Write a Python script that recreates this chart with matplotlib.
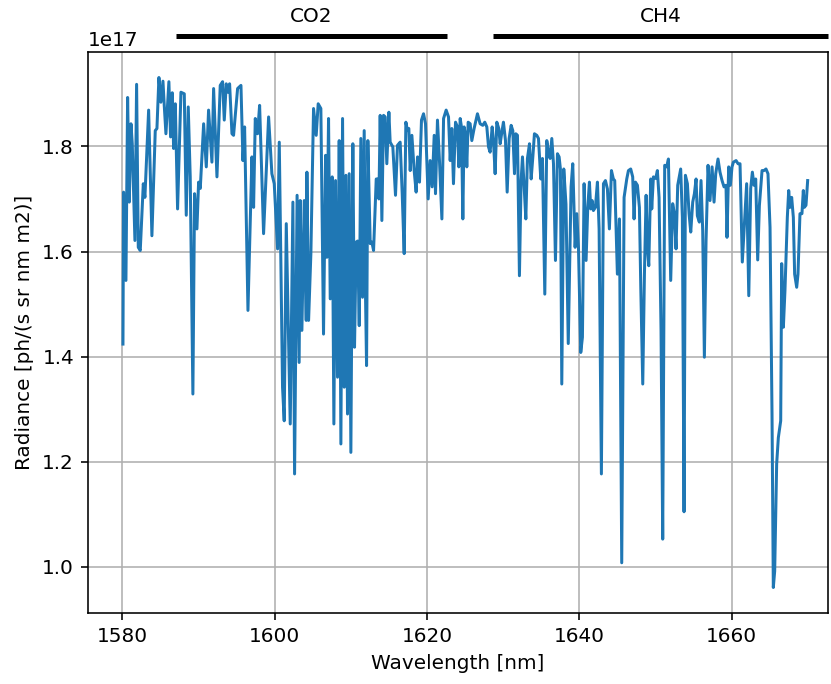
import matplotlib
matplotlib.use("Agg")
import matplotlib.pyplot as plt

# spectrum (radiance in units of 1e17)
wavelength = [
    1580.09, 1580.17, 1580.48, 1580.70, 1580.92, 1581.14, 1581.31, 1581.66, 1581.88, 1582.10,
    1582.36, 1582.76, 1582.97, 1583.46, 1583.89, 1584.33, 1584.55, 1584.81, 1585.07, 1585.34,
    1585.51, 1585.73, 1586.12, 1586.34, 1586.56, 1586.74, 1586.96, 1587.26, 1587.70, 1588.14,
    1588.40, 1588.66, 1588.92, 1589.27, 1589.49, 1589.80, 1590.02, 1590.24, 1590.68, 1591.03,
    1591.33, 1591.77, 1591.99, 1592.43, 1592.86, 1593.17, 1593.39, 1593.65, 1593.87, 1594.09,
    1594.40, 1594.61, 1595.14, 1595.58, 1595.84, 1596.06, 1596.50, 1597.02, 1597.24, 1597.46,
    1597.76, 1598.03, 1598.55, 1599.21, 1599.64, 1599.95, 1600.39, 1600.61, 1601.04, 1601.26,
    1601.53, 1602.05, 1602.40, 1602.62, 1602.95, 1603.22, 1603.36, 1603.58, 1603.89, 1604.15,
    1604.24, 1604.46, 1604.76, 1605.11, 1605.46, 1605.72, 1606.07, 1606.42, 1606.69, 1606.86,
    1607.08, 1607.30, 1607.56, 1607.78, 1608.00, 1608.26, 1608.48, 1608.70, 1608.92, 1609.14,
    1609.36, 1609.57, 1609.79, 1610.01, 1610.27, 1610.49, 1610.71, 1610.90, 1611.11, 1611.32,
    1611.54, 1611.76, 1611.94, 1612.07, 1612.24, 1612.55, 1612.77, 1612.99, 1613.34, 1613.56,
    1613.69, 1613.86, 1614.08, 1614.30, 1614.52, 1614.73, 1615.00, 1615.17, 1615.52, 1615.87,
    1616.13, 1616.48, 1616.75, 1617.01, 1617.23, 1617.45, 1617.62, 1617.80, 1618.02, 1618.32,
    1618.58, 1618.76, 1619.02, 1619.28, 1619.55, 1619.81, 1620.16, 1620.42, 1620.68, 1620.95,
    1621.12, 1621.38, 1621.65, 1621.96, 1622.18, 1622.52, 1622.83, 1623.05, 1623.26, 1623.48,
    1623.75, 1624.01, 1624.18, 1624.36, 1624.53, 1624.71, 1624.88, 1625.10, 1625.23, 1625.41,
    1625.67, 1625.89, 1626.19, 1626.63, 1626.98, 1627.33, 1627.59, 1627.86, 1628.08, 1628.29,
    1628.56, 1628.73, 1628.95, 1629.17, 1629.43, 1629.61, 1629.83, 1630.04, 1630.31, 1630.53,
    1630.79, 1631.05, 1631.27, 1631.49, 1631.66, 1631.88, 1632.14, 1632.36, 1632.54, 1632.76,
    1632.98, 1633.19, 1633.46, 1633.68, 1633.90, 1634.11, 1634.42, 1634.64, 1634.94, 1635.16,
    1635.47, 1635.73, 1635.95, 1636.17, 1636.39, 1636.61, 1636.87, 1637.13, 1637.35, 1637.52,
    1637.70, 1637.96, 1638.25, 1638.55, 1638.92, 1639.14, 1639.45, 1639.67, 1639.89, 1640.19,
    1640.41, 1640.63, 1640.89, 1641.11, 1641.33, 1641.50, 1641.68, 1641.85, 1642.11, 1642.38,
    1642.60, 1642.90, 1643.17, 1643.43, 1643.69, 1643.95, 1644.22, 1644.47, 1644.65, 1645.00,
    1645.27, 1645.57, 1645.88, 1646.23, 1646.45, 1646.75, 1647.01, 1647.19, 1647.37, 1647.63,
    1647.89, 1648.07, 1648.33, 1648.55, 1648.77, 1648.94, 1649.12, 1649.38, 1649.51, 1649.73,
    1650.03, 1650.25, 1650.47, 1650.73, 1650.95, 1651.21, 1651.47, 1651.70, 1652.00, 1652.26,
    1652.48, 1652.70, 1652.92, 1653.31, 1653.53, 1653.75, 1653.93, 1654.19, 1654.41, 1654.63,
    1654.89, 1655.11, 1655.33, 1655.50, 1655.76, 1655.98, 1656.20, 1656.42, 1656.64, 1656.90,
    1657.16, 1657.43, 1657.69, 1657.91, 1658.21, 1658.47, 1658.74, 1659.00, 1659.26, 1659.39,
    1659.61, 1659.83, 1660.05, 1660.23, 1660.58, 1660.84, 1661.10, 1661.40, 1661.70, 1661.97,
    1662.25, 1662.50, 1662.72, 1662.94, 1663.16, 1663.42, 1663.64, 1663.99, 1664.25, 1664.51,
    1664.77, 1665.04, 1665.30, 1665.47, 1665.65, 1665.91, 1666.13, 1666.44, 1666.57, 1666.79,
    1667.00, 1667.31, 1667.49, 1667.66, 1667.88, 1668.10, 1668.27, 1668.54, 1668.71, 1668.97,
    1669.23, 1669.41, 1669.54, 1669.76, 1669.98,
]
radiance = [
    1.424, 1.713, 1.545, 1.893, 1.694, 1.843, 1.805, 1.621, 1.918, 1.608,
    1.602, 1.729, 1.703, 1.869, 1.630, 1.830, 1.834, 1.931, 1.884, 1.924,
    1.878, 1.824, 1.923, 1.818, 1.902, 1.796, 1.881, 1.681, 1.903, 1.900,
    1.669, 1.875, 1.742, 1.329, 1.710, 1.643, 1.732, 1.720, 1.843, 1.761,
    1.869, 1.770, 1.910, 1.742, 1.916, 1.923, 1.850, 1.919, 1.903, 1.919,
    1.824, 1.821, 1.910, 1.916, 1.773, 1.837, 1.488, 1.780, 1.684, 1.853,
    1.824, 1.878, 1.634, 1.856, 1.748, 1.729, 1.605, 1.808, 1.342, 1.278,
    1.653, 1.272, 1.694, 1.177, 1.707, 1.389, 1.697, 1.450, 1.697, 1.469,
    1.751, 1.469, 1.596, 1.872, 1.821, 1.881, 1.872, 1.443, 1.783, 1.589,
    1.853, 1.510, 1.742, 1.272, 1.735, 1.361, 1.811, 1.234, 1.853, 1.342,
    1.745, 1.291, 1.748, 1.218, 1.805, 1.418, 1.618, 1.620, 1.459, 1.815,
    1.513, 1.830, 1.510, 1.383, 1.811, 1.615, 1.618, 1.602, 1.738, 1.738,
    1.700, 1.859, 1.659, 1.859, 1.856, 1.767, 1.865, 1.808, 1.799, 1.707,
    1.802, 1.808, 1.710, 1.596, 1.846, 1.830, 1.834, 1.754, 1.821, 1.754,
    1.713, 1.780, 1.732, 1.850, 1.862, 1.843, 1.700, 1.773, 1.723, 1.821,
    1.710, 1.850, 1.770, 1.662, 1.853, 1.869, 1.856, 1.773, 1.834, 1.729,
    1.846, 1.837, 1.761, 1.853, 1.837, 1.662, 1.837, 1.818, 1.761, 1.846,
    1.843, 1.811, 1.834, 1.862, 1.843, 1.840, 1.846, 1.837, 1.799, 1.789,
    1.837, 1.811, 1.748, 1.846, 1.834, 1.805, 1.827, 1.846, 1.811, 1.713,
    1.815, 1.840, 1.830, 1.748, 1.824, 1.821, 1.554, 1.735, 1.780, 1.723,
    1.662, 1.777, 1.805, 1.738, 1.780, 1.824, 1.821, 1.815, 1.738, 1.777,
    1.519, 1.811, 1.789, 1.777, 1.815, 1.767, 1.583, 1.786, 1.780, 1.757,
    1.348, 1.757, 1.690, 1.425, 1.723, 1.767, 1.608, 1.672, 1.608, 1.408,
    1.437, 1.729, 1.583, 1.684, 1.732, 1.681, 1.697, 1.678, 1.684, 1.732,
    1.643, 1.177, 1.729, 1.735, 1.719, 1.643, 1.754, 1.738, 1.735, 1.557,
    1.662, 1.008, 1.703, 1.738, 1.754, 1.757, 1.742, 1.662, 1.732, 1.726,
    1.684, 1.532, 1.348, 1.557, 1.707, 1.608, 1.573, 1.738, 1.681, 1.742,
    1.739, 1.754, 1.703, 1.450, 1.053, 1.764, 1.761, 1.776, 1.545, 1.691,
    1.672, 1.605, 1.726, 1.757, 1.665, 1.105, 1.745, 1.729, 1.672, 1.637,
    1.694, 1.710, 1.738, 1.668, 1.656, 1.735, 1.640, 1.399, 1.621, 1.764,
    1.697, 1.761, 1.694, 1.748, 1.776, 1.751, 1.735, 1.723, 1.726, 1.627,
    1.761, 1.726, 1.761, 1.770, 1.773, 1.767, 1.767, 1.580, 1.660, 1.729,
    1.516, 1.720, 1.751, 1.726, 1.738, 1.584, 1.687, 1.754, 1.754, 1.757,
    1.748, 1.646, 1.291, 0.961, 0.992, 1.196, 1.246, 1.278, 1.577, 1.456,
    1.526, 1.665, 1.716, 1.684, 1.703, 1.665, 1.557, 1.532, 1.557, 1.672,
    1.672, 1.716, 1.684, 1.688, 1.735,
]

# absorption windows shown above the plot
band_names = ["CO2", "CH4"]
band_start = [1587.0, 1628.7]
band_end = [1622.6, 1672.65]

fig = plt.figure(figsize=(831 / 144, 684 / 144), dpi=144)
ax = fig.add_axes([88 / 831, 71 / 684, 740 / 831, 561 / 684])

ax.plot(wavelength, [r * 1e17 for r in radiance], lw=1.5)
ax.set_xlim(1575.5, 1672.65)
ax.set_xlabel("Wavelength [nm]")
ax.set_ylabel("Radiance [ph/(s sr nm m2)]")
ax.grid(True)

trans = ax.get_xaxis_transform()
for name, x0, x1 in zip(band_names, band_start, band_end):
    ax.plot([x0, x1], [1.0285, 1.0285], color="k", lw=2.5, solid_capstyle="butt",
            transform=trans, clip_on=False)
    ax.text((x0 + x1) / 2, 1.064, name, ha="center", va="center", transform=trans)

fig.savefig("out.png", dpi=144)
